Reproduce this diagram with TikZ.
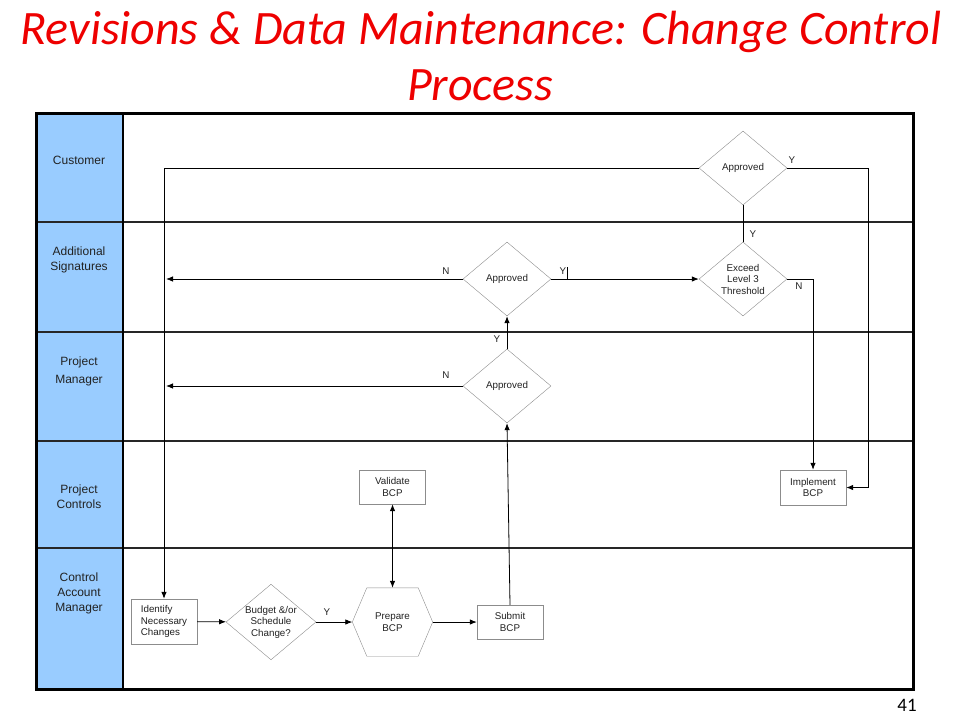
\documentclass[tikz,border=0pt]{standalone}
\usepackage{fontspec}
\setmainfont{Liberation Sans}
\newfontfamily\titlefont{Carlito}
\usetikzlibrary{positioning,calc,shapes.geometric,arrows.meta}

\begin{document}
\begin{tikzpicture}[x=1pt,y=-1pt]
    \definecolor{collane}{HTML}{99CCFF}
    \definecolor{coltitle}{HTML}{EE0000}
    \definecolor{colshape}{HTML}{8C8C8C}
    \definecolor{coltext}{HTML}{222222}
    \tikzstyle{lanelabel}=[align=center,text=coltext,font=\fontsize{12}{15}\selectfont]
    \tikzstyle{procbox}=[rectangle,draw=colshape,fill=white,align=center,text=coltext,
                         minimum width=66pt,minimum height=34pt,inner sep=2pt,
                         font=\fontsize{9.8}{11.5}\selectfont]
    \tikzstyle{decision}=[diamond,draw=colshape,fill=white,aspect=1.19,align=center,text=coltext,
                          minimum width=88pt,minimum height=74pt,inner sep=0pt,
                          font=\fontsize{9.8}{11.5}\selectfont]
    \tikzstyle{flow}=[line width=0.8pt,-{Latex[length=7pt,width=5.5pt]}]
    \tikzstyle{tag}=[inner sep=1pt,text=coltext,font=\fontsize{9.8}{11}\selectfont]
    \useasboundingbox (0,0) rectangle (960,720);
    % title
    \node[anchor=base,text=coltitle,font=\titlefont\itshape\fontsize{48}{56}\selectfont] (title1)
        at (481,44) {Revisions \& Data Maintenance: Change Control};
    \node[anchor=base,text=coltitle,font=\titlefont\itshape\fontsize{48}{56}\selectfont] (title2)
        at (480,100) {Process};
    % lanes
    \fill[collane] (36,113) rectangle (123,689);
    \foreach \y in {222,332,441,548}
        \draw[line width=1.3pt,black!85] (36,\y) -- (913,\y);
    \draw[line width=1.3pt] (123,113) -- (123,689);
    \draw[line width=3pt] (36,113) rectangle (913,689);
    \node[lanelabel] (lcust) at (79,160) {Customer};
    \node[lanelabel] (lsig) at (79,259.5) {Additional\\Signatures};
    \node[lanelabel] (lpm) at (79,371) {Project\\[3pt]Manager};
    \node[lanelabel] (lpc) at (79,496.5) {Project\\Controls};
    \node[lanelabel] (lcam) at (79,593) {Control\\Account\\Manager};
    % steps
    \node[decision] (appcust) at (743,168) {Approved};
    \node[decision] (exceed) at (743,279) {Exceed\\Level 3\\Threshold};
    \node[decision] (appsig) at (507,279) {Approved};
    \node[decision] (apppm) at (507,386) {Approved};
    \node[procbox,minimum height=45pt,align=left] (identify) at (164,621.5) {Identify\\Necessary\\Changes};
    \node[decision] (budget) at (271,622) {Budget \&/or\\Schedule\\Change?};
    \node[procbox,draw=none,fill=none,minimum width=80pt,minimum height=68pt] (prepare) at (392.5,622) {Prepare\\BCP};
    \draw[colshape] (prepare.west) -- ([xshift=14.5pt]prepare.north west) -- ([xshift=-14.5pt]prepare.north east)
        -- (prepare.east) -- ([xshift=-14.5pt]prepare.south east) -- ([xshift=14.5pt]prepare.south west) -- cycle;
    \node[procbox] (submit) at (510,622) {Submit\\BCP};
    \node[procbox] (validate) at (392.5,487) {Validate\\BCP};
    \node[procbox,minimum height=35pt] (implement) at (813,487.5) {Implement\\BCP};
    % connectors
    \coordinate (custright) at (868,168);
    \coordinate (nsig) at (166,279);
    \coordinate (npm) at (166,386);
    \draw[flow] (appcust.west) -| (identify.north);
    \draw[flow] (appcust.east) -- (custright) |- (implement.east);
    \draw[line width=0.8pt] (exceed.north) -- (appcust.south);
    \draw[flow] (exceed.east) -| (implement.north);
    \draw[flow] (appsig.east) -- (exceed.west);
    \draw[line width=0.6pt] ([xshift=16pt]appsig.east) -- ++(0,-12);
    \draw[flow] (appsig.west) -- (nsig);
    \draw[flow] (apppm.west) -- (npm);
    \draw[flow] (apppm.north) -- (appsig.south);
    \draw[flow] (submit.north) -- (apppm.south);
    \draw[flow] (identify) -- (budget);
    \draw[flow] (budget) -- (prepare);
    \draw[flow] (prepare) -- (submit);
    \draw[line width=0.8pt,{Latex[length=7pt,width=5.5pt]}-{Latex[length=7pt,width=5.5pt]}] (validate.south) -- (prepare.north);
    % labels
    \node[tag] (ycust) at (792,160) {Y};
    \node[tag] (yexceed) at (753,234) {Y};
    \node[tag] (nexceed) at (799,286) {N};
    \node[tag] (ysig) at (563,271) {Y};
    \node[tag] (nsiglbl) at (446,271) {N};
    \node[tag] (npmlbl) at (446,375) {N};
    \node[tag] (ypm) at (497,339) {Y};
    \node[tag] (ybudget) at (327,612) {Y};
    \node[font=\titlefont\fontsize{19}{22}\selectfont] (pagenum) at (907,705.5) {41};
\end{tikzpicture}
\end{document}
